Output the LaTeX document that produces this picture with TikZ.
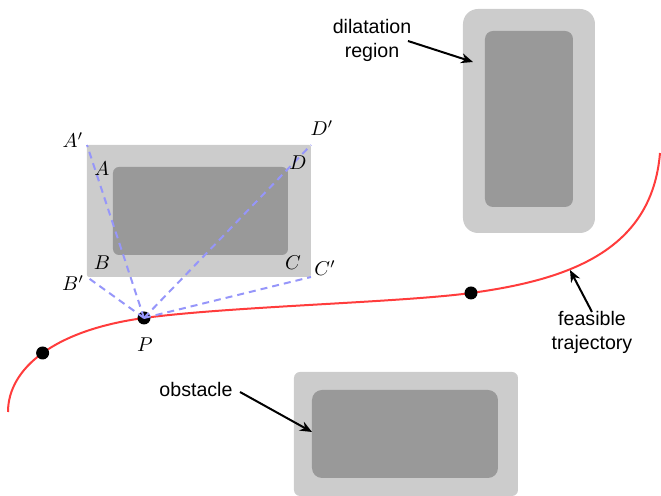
\documentclass[tikz,border=0pt]{standalone}
\usepackage{fontspec}
\setmainfont{Liberation Sans}
\usetikzlibrary{arrows.meta}

\definecolor{halo}{RGB}{204,204,204}
\definecolor{core}{RGB}{153,153,153}
\definecolor{pathred}{RGB}{255,60,60}
\definecolor{sightblue}{RGB}{150,150,250}

\begin{document}
\begin{tikzpicture}[x=0.5pt,y=-0.5pt,
  dilated/.style={fill=halo},
  body/.style={fill=core},
  traj/.style={draw=pathred, line width=1pt},
  waypoint/.style={circle, fill=black, inner sep=0pt, minimum size=6.5pt},
  sight/.style={draw=sightblue, line width=1pt, dash pattern=on 3.5pt off 2.5pt},
  callout/.style={-{Stealth[length=6pt,width=5pt]}, line width=1pt},
  caption/.style={font=\fontsize{9.8}{12}\selectfont, align=center, inner sep=0pt},
  corner/.style={inner sep=0pt}]

\useasboundingbox (0,0) rectangle (661,496);

% obstacles with their dilatation regions
\fill[dilated, rounded corners=1pt] (87,145) rectangle (311,277);
\fill[body, rounded corners=3pt] (113,167) rectangle (288,255);
\fill[dilated, rounded corners=7.5pt] (463,9) rectangle (595,233);
\fill[body, rounded corners=4pt] (485,31) rectangle (573,207);
\fill[dilated, rounded corners=3pt] (294,372) rectangle (518,496);
\fill[body, rounded corners=5pt] (312,390) rectangle (498,478);

% corners of the dilated box
\coordinate (Ap) at (87,145);
\coordinate (Dp) at (311,145);
\coordinate (Bp) at (87,277);
\coordinate (Cp) at (311,277);

% feasible trajectory: three cubic pieces with matching tangents
\coordinate (Pc) at (144,318);
\coordinate (W2c) at (471,293);
\draw[traj] (8,412) .. controls (8,368) and (55,330) .. (Pc)
  coordinate[pos=0.5] (W1c)
  .. controls (230,306.4) and (400,302.6) .. (W2c)
  .. controls (570,279.6) and (652,250) .. (660,153);

\node[waypoint] (w1) at (W1c) {};
\node[waypoint] (P) at (Pc) {};
\node[waypoint] (w2) at (W2c) {};

% lines of sight from P to the dilated corners
\draw[sight] (P.center) -- (Ap);
\draw[sight] (P.center) -- (Bp);
\draw[sight] (P.center) -- (Cp);
\draw[sight] (P.center) -- (Dp);

% corner labels
\node[corner] (lAp) at (73,140) {$A'$};
\node[corner] (lA) at (102,169) {$A$};
\node[corner] (lD) at (298,163) {$D$};
\node[corner] (lDp) at (322,128) {$D'$};
\node[corner] (lB) at (102,263) {$B$};
\node[corner] (lC) at (293,263) {$C$};
\node[corner] (lBp) at (73,283) {$B'$};
\node[corner] (lCp) at (325,268) {$C'$};
\node[corner] (lP) at (145,345) {$P$};

% captions
\node[caption] (dil) at (372,40) {dilatation\\region};
\coordinate (dilTip) at (473,62);
\draw[callout] (408,41) -- (dilTip);

\node[caption] (obs) at (196,390) {obstacle};
\coordinate (obsTip) at (312,432);
\draw[callout] (240,392) -- (obsTip);

\node[caption] (feas) at (592,332) {feasible\\trajectory};
\coordinate (feasTip) at (570,270);
\draw[callout] (592,312) -- (feasTip);

\end{tikzpicture}
\end{document}
